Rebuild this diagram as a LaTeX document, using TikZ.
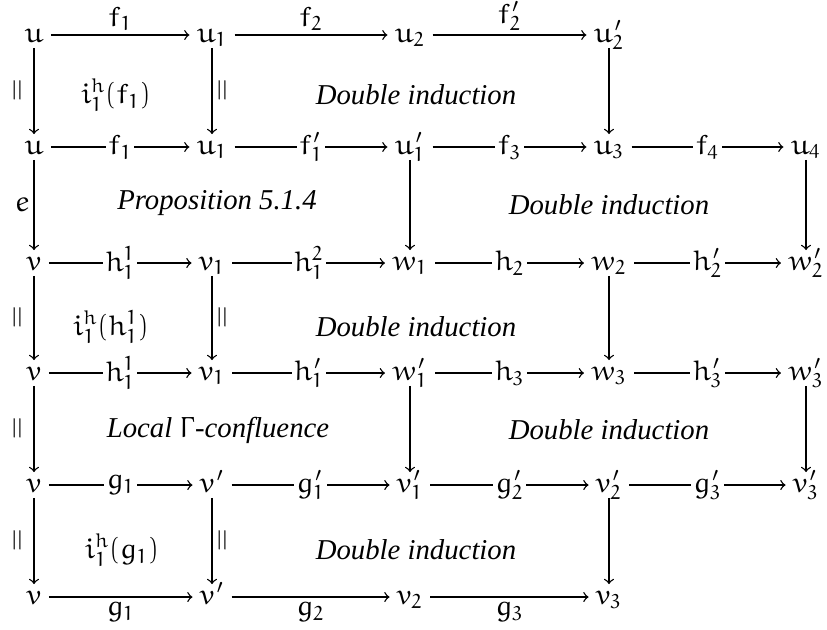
\documentclass[tikz,border=0pt]{standalone}
\IfFileExists{euler.sty}{\usepackage{euler}}{}
\usepackage[no-math]{fontspec}
\setmainfont{Liberation Serif}
\usepackage{tikz}
\usetikzlibrary{positioning}

\begin{document}
\begin{tikzpicture}[
  x=0.4pt, y=-0.4pt,
  every node/.style={font=\fontsize{11.5}{14}\selectfont},
  obj/.style={inner xsep=2.8pt, inner ysep=1pt, text height=1.5ex, text depth=.2ex},
  lbl/.style={fill=white, inner sep=1pt},
  cell/.style={font=\fontsize{11.5}{14}\selectfont\itshape},
  eq/.style={rotate=90, inner sep=0pt, line width=0.4pt},
  ->, >=to, line width=0.55pt
]
  \useasboundingbox (0,0) rectangle (827,629);

  % row 1
  \node[obj] (u)   at (34,35)  {$u$};
  \node[obj] (u1)  at (212,35) {$u_1$};
  \node[obj] (u2)  at (410,35) {$u_2$};
  \node[obj] (u2p) at (609,35) {$u'_2$};
  % row 2
  \node[obj] (a)   at (34,147)  {$u$};
  \node[obj] (a1)  at (212,147) {$u_1$};
  \node[obj] (u1p) at (410,147) {$u'_1$};
  \node[obj] (u3)  at (609,147) {$u_3$};
  \node[obj] (u4)  at (806,147) {$u_4$};
  % row 3
  \node[obj] (v)   at (34,263)  {$v$};
  \node[obj] (v1)  at (212,263) {$v_1$};
  \node[obj] (w1)  at (410,263) {$w_1$};
  \node[obj] (w2)  at (609,263) {$w_2$};
  \node[obj] (w2p) at (806,263) {$w'_2$};
  % row 4
  \node[obj] (b)   at (34,373)  {$v$};
  \node[obj] (b1)  at (212,373) {$v_1$};
  \node[obj] (w1p) at (410,373) {$w'_1$};
  \node[obj] (w3)  at (609,373) {$w_3$};
  \node[obj] (w3p) at (806,373) {$w'_3$};
  % row 5
  \node[obj] (c)   at (34,485)  {$v$};
  \node[obj] (vp)  at (212,485) {$v'$};
  \node[obj] (v1p) at (410,485) {$v'_1$};
  \node[obj] (v2p) at (609,485) {$v'_2$};
  \node[obj] (v3p) at (806,485) {$v'_3$};
  % row 6
  \node[obj] (d)   at (34,597)  {$v$};
  \node[obj] (dp)  at (212,597) {$v'$};
  \node[obj] (v2)  at (410,597) {$v_2$};
  \node[obj] (v3)  at (609,597) {$v_3$};

  % horizontal arrows
  \draw (u)--node[above,inner sep=1.5pt]{$f_1$}(u1);
  \draw (u1)--node[above,inner sep=1.5pt]{$f_2$}(u2);
  \draw (u2)--node[above,inner sep=1.5pt]{$f'_2$}(u2p);

  \draw (a)--node[lbl]{$f_1$}(a1);
  \draw (a1)--node[lbl]{$f'_1$}(u1p);
  \draw (u1p)--node[lbl]{$f_3$}(u3);
  \draw (u3)--node[lbl]{$f_4$}(u4);

  \draw (v)--node[lbl]{$h^1_1$}(v1);
  \draw (v1)--node[lbl]{$h^2_1$}(w1);
  \draw (w1)--node[lbl]{$h_2$}(w2);
  \draw (w2)--node[lbl]{$h'_2$}(w2p);

  \draw (b)--node[lbl]{$h^1_1$}(b1);
  \draw (b1)--node[lbl]{$h'_1$}(w1p);
  \draw (w1p)--node[lbl]{$h_3$}(w3);
  \draw (w3)--node[lbl]{$h'_3$}(w3p);

  \draw (c)--node[lbl]{$g_1$}(vp);
  \draw (vp)--node[lbl]{$g'_1$}(v1p);
  \draw (v1p)--node[lbl]{$g'_2$}(v2p);
  \draw (v2p)--node[lbl]{$g'_3$}(v3p);

  \draw (d)--node[below,inner sep=2pt]{$g_1$}(dp);
  \draw (dp)--node[below,inner sep=2pt]{$g_2$}(v2);
  \draw (v2)--node[below,inner sep=2pt]{$g_3$}(v3);

  % vertical arrows
  \draw (u)--node[xshift=-6pt,eq]{$=$}(a);
  \draw (u1)--node[xshift=4.8pt,eq]{$=$}(a1);
  \draw (u2p)--(u3);

  \draw (a)--node[left,inner sep=1.5pt]{$e$}(v);
  \draw (u1p)--(w1);
  \draw (u4)--(w2p);

  \draw (v)--node[xshift=-6pt,eq]{$=$}(b);
  \draw (v1)--node[xshift=4.8pt,eq]{$=$}(b1);
  \draw (w2)--(w3);

  \draw (b)--node[xshift=-6pt,eq]{$=$}(c);
  \draw (w1p)--(v1p);
  \draw (w3p)--(v3p);

  \draw (c)--node[xshift=-6pt,eq]{$=$}(d);
  \draw (vp)--node[xshift=4.8pt,eq]{$=$}(dp);
  \draw (v2p)--(v3);

  % cells
  \node (c11) at (116,95)  {$i^h_1(f_1)$};
  \node[cell] (c12) at (416,95)  {Double induction};
  \node[cell] (c21) at (217,203) {Proposition 5.1.4};
  \node[cell] (c22) at (609,205) {Double induction};
  \node (c31) at (111,327) {$i^h_1(h^1_1)$};
  \node[cell] (c32) at (416,327) {Double induction};
  \node[cell] (c41) at (218,430) {Local $\Gamma$-confluence};
  \node[cell] (c42) at (609,430) {Double induction};
  \node (c51) at (122,550) {$i^h_1(g_1)$};
  \node[cell] (c52) at (416,550) {Double induction};
\end{tikzpicture}
\end{document}
